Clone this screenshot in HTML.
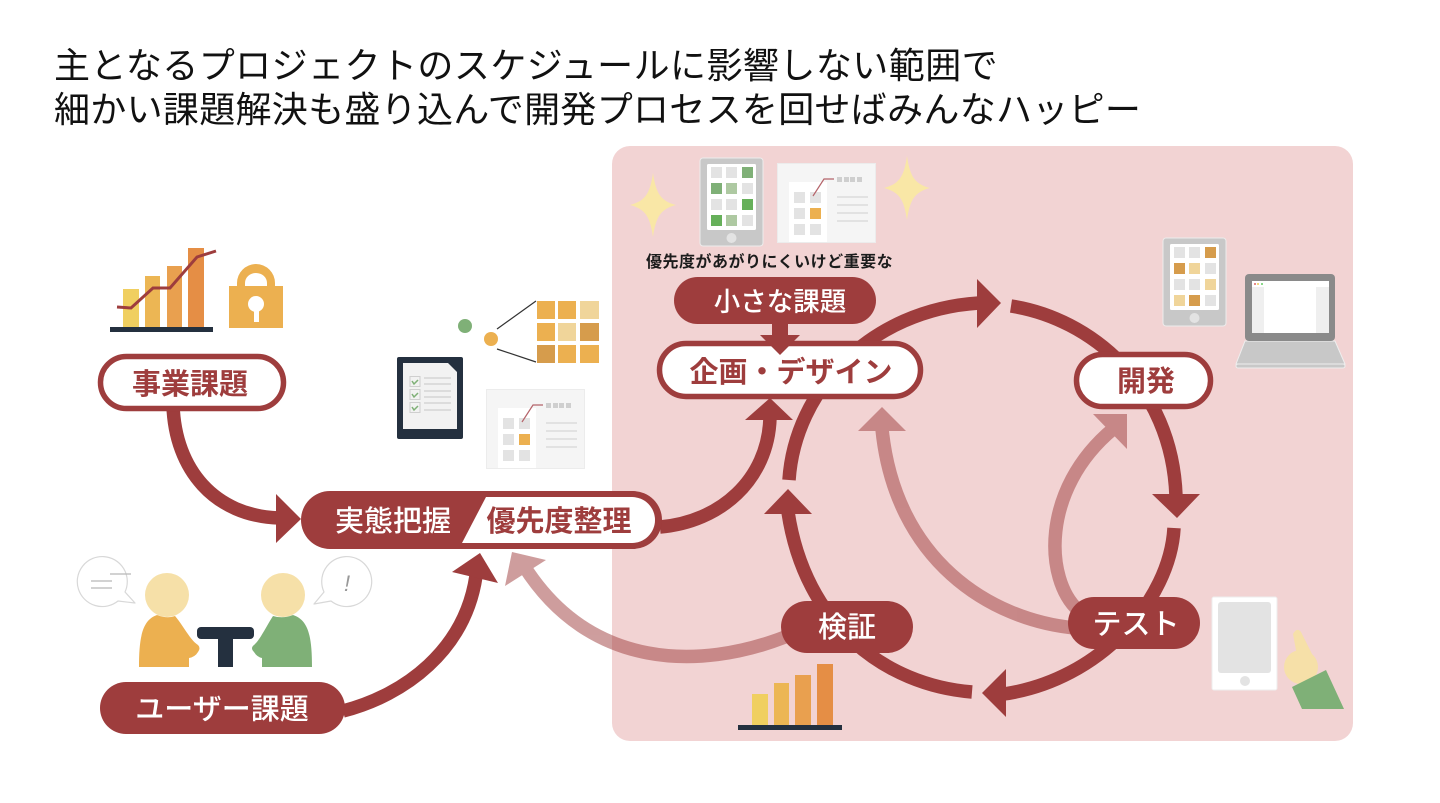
<!DOCTYPE html>
<html lang="ja"><head><meta charset="utf-8"><title>開発プロセス</title>
<style>
html,body{margin:0;padding:0;background:#fff;width:1440px;height:803px;overflow:hidden}
svg{display:block}
text{font-family:"Liberation Sans","Noto Sans CJK JP",sans-serif}
.t{font-size:36px;fill:#111;letter-spacing:.35px}
.l{font-size:29px;font-weight:700;text-anchor:middle;dominant-baseline:central}
.m{font-weight:500}
.w{fill:#fff}.r{fill:#9e3d3d}
.a{fill:none;stroke:#9e3d3d;stroke-width:13.500}
</style></head><body>
<svg width="1440" height="803" viewBox="0 0 1440 803" xmlns="http://www.w3.org/2000/svg">
<defs>
<g id="card">
<rect x="486.500" y="389.500" width="98" height="79" fill="#f5f5f5" stroke="#ececec"/>
<rect x="498" y="408" width="38" height="60" fill="#fff"/>
<g fill="#e3e3e3"><rect x="503" y="418" width="11" height="11"/><rect x="519" y="418" width="11" height="11"/><rect x="503" y="434" width="11" height="11"/><rect x="503" y="450" width="11" height="11"/><rect x="519" y="450" width="11" height="11"/></g>
<rect x="519" y="434" width="11" height="11" fill="#ecb050"/>
<path d="M522,422 L533,405 H543" fill="none" stroke="#b5646a" stroke-width="1.200"/>
<g fill="#cfcfcf"><rect x="546" y="403" width="5" height="5"/><rect x="553" y="403" width="5" height="5"/><rect x="559" y="403" width="5" height="5"/><rect x="566" y="403" width="5" height="5"/></g>
<g stroke="#d8d8d8" stroke-width="1.200"><path d="M546,423H577M546,431H577M546,439H577M546,447H577"/></g>
</g>
<g id="tablet">
<rect x="700" y="158" width="63" height="88" rx="3" fill="#c8c8c8" stroke="#ececec" stroke-width="1"/>
<rect x="707" y="164" width="49" height="66" rx="1.500" fill="#fff"/>
<circle cx="731.500" cy="238" r="5" fill="#e3e3e3"/>
</g>
<path id="star" d="M0,-32 C3,-11 8,-4 23,0 C8,4 3,11 0,32 C-3,11 -8,4 -23,0 C-8,-4 -3,-11 0,-32Z" fill="#f9e7a6"/>
</defs>

<rect x="612" y="146" width="741" height="595" rx="18" fill="#f2d3d3"/>

<text class="t" x="54" y="78" style="letter-spacing:.45px">主となるプロジェクトのスケジュールに影響しない範囲で</text>
<text class="t" x="54" y="122" style="letter-spacing:.3px">細かい課題解決も盛り込んで開発プロセスを回せばみんなハッピー</text>

<!-- faded arrows -->
<g opacity=".5">
<path class="a" d="M785,637 C700,670 590,670 524,566"/>
<polygon class="r" points="512,552 546,560 505,586"/>
</g>
<g opacity=".5">
<path class="a" d="M1075,628 C990,620 895,560 882,429"/>
<polygon class="r" points="882,407 858,431 906,431"/>
<path class="a" d="M1078,610 C1045,580 1040,490 1113,429"/>
<polygon class="r" points="1127,414 1093,414 1127,449"/>
</g>

<!-- cycle -->
<path class="a" d="M789,480 C795,390 870,310 979,303"/>
<polygon class="r" points="1001,303 977,279 977,328"/>
<path class="a" d="M1011,306 C1090,318 1172,385 1176,496"/>
<polygon class="r" points="1177,518 1152,494 1200,494"/>
<path class="a" d="M1174,528 C1170,600 1100,680 1004,694"/>
<polygon class="r" points="982,693 1006,669 1006,717"/>
<path class="a" d="M972,692 C885,685 805,625 788,512"/>
<polygon class="r" points="788,489 764,514 812,514"/>

<!-- feeder arrows -->
<path class="a" d="M173,405 C175,470 215,516 279,518"/>
<polygon class="r" points="301,519 276,494 276,543"/>
<path class="a" d="M343,711 C405,695 465,650 476,576"/>
<polygon class="r" points="480,553 452,572 498,583"/>
<path class="a" d="M660,527 C720,522 768,480 770,418"/>
<polygon class="r" points="770,398 745,420 793,420"/>

<!-- pills -->
<rect x="100.500" y="356.500" width="183" height="52" rx="26" fill="#fff" stroke="#9e3d3d" stroke-width="5.500"/>
<text class="l r" x="190" y="385">事業課題</text>

<rect x="301" y="491" width="361" height="58" rx="29" class="r"/>
<path d="M462,543 L486,497 H632 A23,23 0 0 1 632,543Z" fill="#fff"/>
<text class="l w m" x="393" y="522">実態把握</text>
<text class="l r" x="559" y="522">優先度整理</text>

<rect x="100" y="682" width="245" height="52" rx="26" class="r"/>
<text class="l w m" x="222" y="710">ユーザー課題</text>

<rect x="674" y="277" width="202" height="47" rx="23.500" class="r"/>
<text class="l w m" x="780" y="302" style="font-size:26.500px">小さな課題</text>
<rect x="659.500" y="343.500" width="261" height="53" rx="26.500" fill="#fff" stroke="#9e3d3d" stroke-width="5.500"/>
<rect x="772" y="322" width="16" height="15" class="r"/>
<polygon class="r" points="760,335 800,335 780,355"/>
<text class="l r" x="791" y="373">企画・デザイン</text>
<text x="646" y="267" style="font-size:16px;font-weight:700;fill:#1c1c1c;letter-spacing:.5px">優先度があがりにくいけど重要な</text>

<rect x="1076.500" y="354.500" width="134" height="52" rx="26" fill="#fff" stroke="#9e3d3d" stroke-width="5.500"/>
<text class="l r" x="1146" y="382">開発</text>
<rect x="1068" y="597" width="132" height="52" rx="26" class="r"/>
<text class="l w m" x="1136" y="625">テスト</text>
<rect x="781" y="601" width="132" height="52" rx="26" class="r"/>
<text class="l w m" x="847" y="628">検証</text>

<!-- bar chart 1 -->
<rect x="123" y="289" width="16" height="38" fill="#f0cf60"/>
<rect x="145" y="276" width="15" height="51" fill="#ecb654"/>
<rect x="167" y="266" width="15" height="61" fill="#e9a04f"/>
<rect x="188" y="248" width="16" height="79" fill="#e58e45"/>
<rect x="110" y="327" width="103" height="5" fill="#24303f"/>
<path d="M117,307 L131,308 L153,288 H170 L197,257 L216,251" fill="none" stroke="#9e3d3d" stroke-width="3"/>
<!-- lock -->
<path d="M237,286 V283 A19,19 0 0 1 275,283 V286 H283 V328 H229 V286Z M245,286 H267 V283 A11,10 0 0 0 245,283Z" fill="#ecb050" fill-rule="evenodd"/>
<circle cx="256" cy="304" r="8" fill="#fff"/><rect x="254" y="304" width="5" height="18" fill="#fff"/>

<!-- people -->
<circle cx="167" cy="595" r="22" fill="#f6e0a8"/>
<circle cx="283" cy="595" r="22" fill="#f6e0a8"/>
<path d="M139,667 C139,635 143,620 157,615 Q167,619 175,616 C183,625 190,640 198,645 Q201,648 198,652 Q195,657 189,658 V667Z" fill="#ecb050"/>
<path d="M312,667 C312,635 308,620 293,615 Q283,619 273,616 C267,625 260,640 254,645 Q250,648 254,652 Q257,657 262,658 V667Z" fill="#7fb077"/>
<rect x="197" y="627" width="57" height="12" rx="4" fill="#24303f"/>
<rect x="218" y="635" width="15" height="32" fill="#24303f"/>
<path d="M125,592 L135,603 L118,601 A25,25 0 1 1 125,592Z" fill="#fff" stroke="#d8d8d8" stroke-width="1.200" stroke-linejoin="round"/>
<path d="M91,581H112M91,588H112M110,574H131" stroke="#b8b8b8" stroke-width="1.200"/>
<path d="M324,592 L314,604 L331,601 A25,25 0 1 0 324,592Z" fill="#fff" stroke="#d8d8d8" stroke-width="1.200" stroke-linejoin="round"/>
<text x="347" y="591" style="font-size:22px;fill:#999;font-style:italic;text-anchor:middle">!</text>

<!-- checklist -->
<rect x="397" y="357" width="66" height="82" rx="2" fill="#24303f"/>
<path d="M403,363 H448 L457,372 V429 H403Z" fill="#f2f2f2"/>
<g fill="#f2f2f2" stroke="#cfcfcf"><rect x="410" y="376.500" width="10" height="10"/><rect x="410" y="389.500" width="10" height="10"/><rect x="410" y="402.500" width="10" height="10"/></g>
<path d="M412,381l2,3l4,-4M412,394l2,3l4,-4M412,407l2,3l4,-4" fill="none" stroke="#7fb077" stroke-width="1.500"/>
<path d="M424,378H451M424,384H451M424,391H451M424,397H451M424,403H451M424,410H451" stroke="#cfcfcf" stroke-width="1.200"/>

<!-- dots & grid -->
<circle cx="465" cy="326" r="7" fill="#7fb077"/>
<circle cx="491" cy="339" r="7" fill="#ecb050"/>
<path d="M497,329 L536,301 M497,349 L536,362" stroke="#333" stroke-width="1.200"/>
<g>
<rect x="537" y="301" width="18" height="18" fill="#ecb050"/><rect x="558" y="301" width="18" height="18" fill="#ecb050"/><rect x="580" y="301" width="19" height="18" fill="#f0d59a"/>
<rect x="537" y="323" width="18" height="18" fill="#ecb050"/><rect x="558" y="323" width="18" height="18" fill="#f0d59a"/><rect x="580" y="323" width="19" height="18" fill="#d69c4c"/>
<rect x="537" y="345" width="18" height="18" fill="#d69c4c"/><rect x="558" y="345" width="18" height="18" fill="#ecb050"/><rect x="580" y="345" width="19" height="18" fill="#ecb050"/>
</g>

<use href="#card"/>
<use href="#card" transform="translate(291,-226)"/>

<!-- stars -->
<use href="#star" transform="translate(653,205)"/>
<use href="#star" transform="translate(907,188)"/>

<!-- green tablet -->
<use href="#tablet"/>
<g>
<rect x="711" y="167" width="11" height="11" fill="#e3e3e3"/><rect x="726" y="167" width="11" height="11" fill="#e3e3e3"/><rect x="742" y="167" width="11" height="11" fill="#7fb077"/>
<rect x="711" y="183" width="11" height="11" fill="#7fb077"/><rect x="726" y="183" width="11" height="11" fill="#aec9a2"/><rect x="742" y="183" width="11" height="11" fill="#e3e3e3"/>
<rect x="711" y="199" width="11" height="11" fill="#e3e3e3"/><rect x="726" y="199" width="11" height="11" fill="#e3e3e3"/><rect x="742" y="199" width="11" height="11" fill="#66b05a"/>
<rect x="711" y="215" width="11" height="11" fill="#66b05a"/><rect x="726" y="215" width="11" height="11" fill="#aec9a2"/><rect x="742" y="215" width="11" height="11" fill="#e3e3e3"/>
</g>

<!-- orange tablet -->
<use href="#tablet" transform="translate(463,80)"/>
<g transform="translate(463,80)">
<rect x="711" y="167" width="11" height="11" fill="#e3e3e3"/><rect x="726" y="167" width="11" height="11" fill="#e3e3e3"/><rect x="742" y="167" width="11" height="11" fill="#d69c4c"/>
<rect x="711" y="183" width="11" height="11" fill="#d69c4c"/><rect x="726" y="183" width="11" height="11" fill="#f0d59a"/><rect x="742" y="183" width="11" height="11" fill="#e3e3e3"/>
<rect x="711" y="199" width="11" height="11" fill="#e3e3e3"/><rect x="726" y="199" width="11" height="11" fill="#e3e3e3"/><rect x="742" y="199" width="11" height="11" fill="#f0d59a"/>
<rect x="711" y="215" width="11" height="11" fill="#f0d59a"/><rect x="726" y="215" width="11" height="11" fill="#d69c4c"/><rect x="742" y="215" width="11" height="11" fill="#e3e3e3"/>
</g>

<!-- laptop -->
<polygon points="1245,341 1335,341 1345,364 1236,364" fill="#c8c8c8" stroke="#eee" stroke-width="1"/>
<rect x="1236" y="364" width="109" height="4" rx="2" fill="#c8c8c8" stroke="#eee" stroke-width="1"/>
<rect x="1245" y="274" width="90" height="67" rx="4" fill="#8a8a8a"/>
<rect x="1252" y="281" width="77" height="52" fill="#fff"/>
<rect x="1252" y="287" width="12" height="46" fill="#efefef"/>
<rect x="1316" y="287" width="13" height="46" fill="#efefef"/>
<circle cx="1255" cy="284" r="1" fill="#d66"/><circle cx="1258" cy="284" r="1" fill="#ec5"/><circle cx="1262" cy="284" r="1" fill="#6c6"/>

<!-- bar chart 2 -->
<rect x="752" y="694" width="16" height="31" fill="#f0cf60"/>
<rect x="774" y="683" width="15" height="42" fill="#ecb654"/>
<rect x="795" y="675" width="16" height="50" fill="#e9a04f"/>
<rect x="817" y="664" width="16" height="61" fill="#e58e45"/>
<rect x="738" y="725" width="104" height="5" fill="#24303f"/>

<!-- phone & hand -->
<rect x="1212" y="597" width="65" height="93" rx="2" fill="#fff" stroke="#eee" stroke-width="1"/>
<rect x="1218" y="602" width="53" height="71" rx="3" fill="#e3e3e3"/>
<circle cx="1245" cy="681" r="5" fill="#e3e3e3"/>
<path d="M1293,634 Q1297,627 1301,632 L1318,666 L1300,672Z" fill="#f6e0a8"/>
<circle cx="1301" cy="667" r="17" fill="#f6e0a8"/>
<polygon points="1292,687 1326,670 1344,709 1302,709" fill="#7fb077"/>
</svg>
</body></html>
